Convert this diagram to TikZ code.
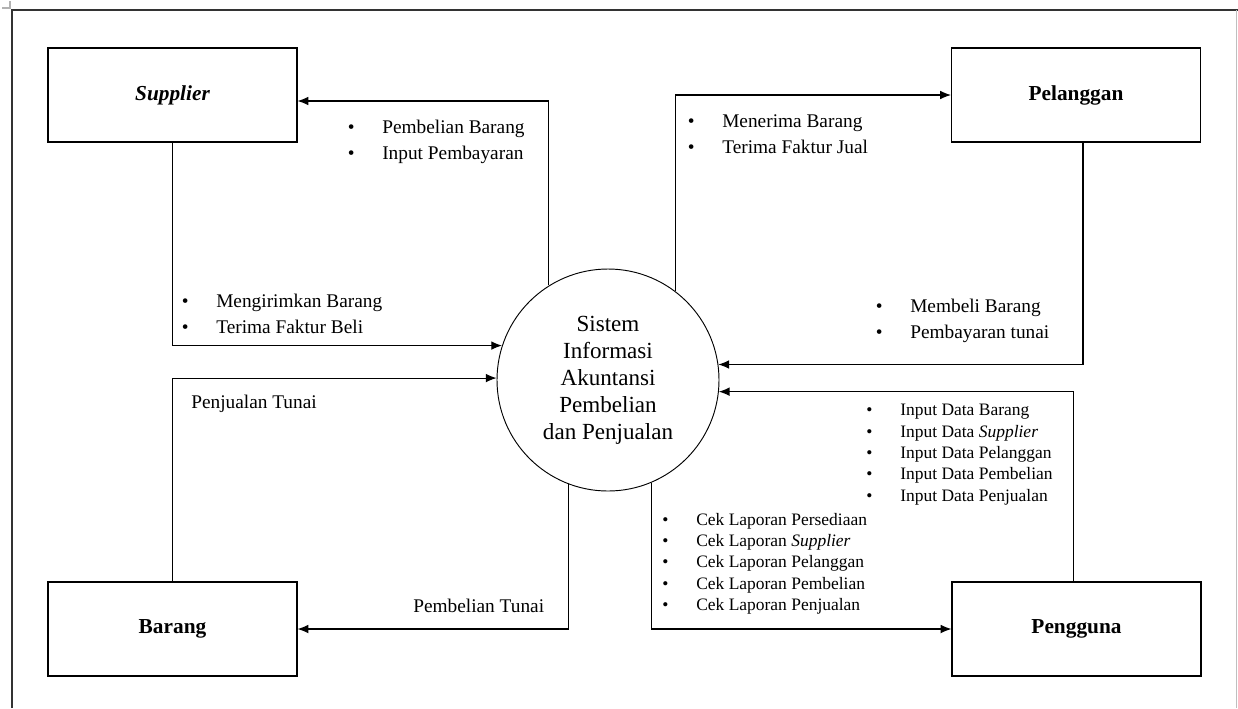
\documentclass[tikz,border=0pt]{standalone}
\usepackage{fontspec}
\setmainfont{Liberation Serif}
\usetikzlibrary{arrows.meta,calc}
\newcommand{\bulA}{\makebox[25.9pt][l]{\textbullet}}
\newcommand{\bulB}{\makebox[25.5pt][l]{\textbullet}}
\begin{document}
\begin{tikzpicture}[x=0.75pt,y=-0.75pt,
  ent/.style={draw,line width=0.9pt,minimum width=186.75pt,minimum height=70.5pt,inner sep=0pt,font=\fontsize{16}{19}\selectfont\bfseries},
  proc/.style={draw,line width=0.7pt,circle,minimum size=166.5pt,inner sep=0pt,align=center,font=\fontsize{17.3}{20.3}\selectfont},
  flow/.style={line width=0.8pt,-{Latex[length=8pt,width=6.5pt]}},
  lbl/.style={inner sep=0pt,anchor=west,align=left,font=\fontsize{14.5}{19.5}\selectfont},
  lbls/.style={inner sep=0pt,anchor=west,align=left,font=\fontsize{13.1}{16}\selectfont},
  frame/.style={line width=0.9pt,draw=black!80}]
\useasboundingbox (0,0) rectangle (1238,708);
% page frame
\draw[frame] (12,708) -- (12,10) -- (1238,10);
\draw[draw=black!25,line width=0.6pt] (1236,10) -- (1236,708);
\draw[draw=black!30,line width=0.8pt] (2,8) -- (10,8) -- (10,1);
% entities
\node[ent] (sup) at (172.5,95) {\itshape Supplier};
\node[ent] (pel) at (1076,95) {Pelanggan};
\node[ent] (bar) at (172.5,629) {Barang};
\node[ent] (pen) at (1076.5,629) {Pengguna};
% process
\node[proc] (c) at (608,380) {Sistem\\Informasi\\Akuntansi\\Pembelian\\dan Penjualan};
% flows
\draw[flow] (sup.south) |- (c.162.7);
\draw[flow] (bar.north) |- (c.179.5);
\draw[flow] (c.122) |- ($(sup.east)+(0,6)$);
\draw[flow] (c.53.5) |- (pel.west);
\draw[flow] ($(pel.south)+(7,0)$) |- (c.8.8);
\draw[flow] ($(pen.north)+(-3,0)$) |- (c.-6.2);
\draw[flow] (c.-67.2) |- (pen.west);
\draw[flow] (c.-111) |- (bar.east);
% labels
\node[lbl] (l1) at (347.5,141.5) {\bulA Pembelian Barang\\\bulA Input Pembayaran};
\node[lbl] (l2) at (687.5,134) {\bulA Menerima Barang\\\bulA Terima Faktur Jual};
\node[lbl] (l3) at (181.5,314) {\bulA Mengirimkan Barang\\\bulA Terima Faktur Beli};
\node[lbl] (l4) at (875.5,321) {\bulA Membeli Barang\\\bulA Pembayaran tunai};
\node[lbl] (l5) at (191,404) {Penjualan Tunai};
\node[lbl] (l6) at (413,606) {Pembelian Tunai};
\node[lbls] (l7) at (866,454.5) {\bulB Input Data Barang\\\bulB Input Data \textit{Supplier}\\\bulB Input Data Pelanggan\\\bulB Input Data Pembelian\\\bulB Input Data Penjualan};
\node[lbls] (l8) at (662,563.5) {\bulB Cek Laporan Persediaan\\\bulB Cek Laporan \textit{Supplier}\\\bulB Cek Laporan Pelanggan\\\bulB Cek Laporan Pembelian\\\bulB Cek Laporan Penjualan};
\end{tikzpicture}
\end{document}
